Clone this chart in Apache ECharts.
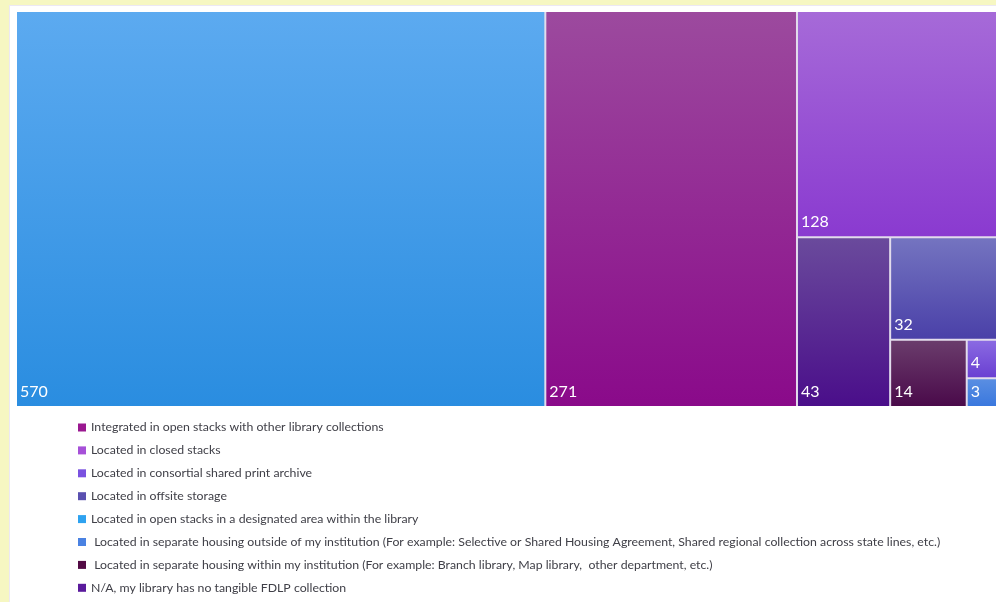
<!DOCTYPE html>
<html>
<head>
<meta charset="utf-8">
<script src="https://cdn.jsdelivr.net/npm/echarts@6/dist/echarts.min.js"></script>
<style>
html,body{margin:0;padding:0;background:#f6f7c2;width:996px;height:602px;overflow:hidden;}
#panel{position:absolute;left:9px;top:5px;width:1000px;height:620px;background:#ffffff;border-left:1px solid #ece8f4;border-top:1px solid #ece8f4;}
#chart{position:absolute;left:0;top:0;width:996px;height:602px;}
</style>
</head>
<body>
<div id="panel"></div>
<div id="chart"></div>
<script>
// Legend / category order (as in the legend)
var categories = [
  "Integrated in open stacks with other library collections",
  "Located in closed stacks",
  "Located in consortial shared print archive",
  "Located in offsite storage",
  "Located in open stacks in a designated area within the library",
  " Located in separate housing outside of my institution (For example: Selective or Shared Housing Agreement, Shared regional collection across state lines, etc.)",
  " Located in separate housing within my institution (For example: Branch library, Map library,  other department, etc.)",
  "N/A, my library has no tangible FDLP collection"
];
var values = [271, 128, 4, 32, 570, 3, 14, 43];
var legendColors = ["#9a1890", "#a650d8", "#7a52e0", "#5a50b0", "#2ea2f0", "#4a82e2", "#520a44", "#5a1a9c"];
var gradTop = ["#9c4a9e", "#a66ad8", "#8a6ae2", "#7474c0", "#5caaf0", "#5a8ee2", "#6a3c6c", "#6a4a9c"];
var gradBottom = ["#8a0a8a", "#8a3ad0", "#6a40d2", "#4a40a8", "#2a8de0", "#3a78de", "#4a0a4a", "#4a0e8a"];

function grad(i){
  return {type:'linear', x:0, y:0, x2:0, y2:1,
    colorStops:[{offset:0,color:gradTop[i]},{offset:1,color:gradBottom[i]}]};
}

var treeData = categories.map(function(name, i){
  return {name: name, value: values[i], itemStyle: {color: grad(i)}};
});
var pieData = categories.map(function(name, i){
  return {name: name, value: values[i], itemStyle: {color: legendColors[i]}};
});

var chart = echarts.init(document.getElementById('chart'), null, {renderer:'canvas'});
chart.setOption({
  backgroundColor: 'transparent',
  animation: false,
  legend: {
    orient: 'vertical',
    left: 78,
    top: 420,
    padding: 0,
    itemWidth: 8,
    itemHeight: 8,
    itemGap: 7.9,
    icon: 'rect',
    selectedMode: false,
    data: categories,
    textStyle: {fontFamily: 'Lato', fontSize: 12.3, color: '#404048', lineHeight: 15}
  },
  series: [
    {
      type: 'treemap',
      left: 17,
      top: 12,
      width: 987,
      height: 394,
      squareRatio: 1,
      roam: false,
      nodeClick: false,
      silent: true,
      breadcrumb: {show: false},
      itemStyle: {borderColor: '#e2dcec', borderWidth: 0, gapWidth: 2},
      levels: [
        {itemStyle: {borderColor: '#e2dcec', borderWidth: 0, gapWidth: 2}},
        {itemStyle: {borderWidth: 0, gapWidth: 0}}
      ],
      label: {
        show: true,
        position: 'insideBottomLeft',
        distance: 4,
        offset: [-6, 3],
        formatter: '{c}',
        color: '#ffffff',
        fontFamily: 'Lato',
        fontSize: 16
      },
      data: treeData
    },
    {
      type: 'pie',
      radius: [0, 0],
      center: [-100, -100],
      silent: true,
      label: {show: false},
      labelLine: {show: false},
      data: pieData
    }
  ]
});
</script>
</body>
</html>
